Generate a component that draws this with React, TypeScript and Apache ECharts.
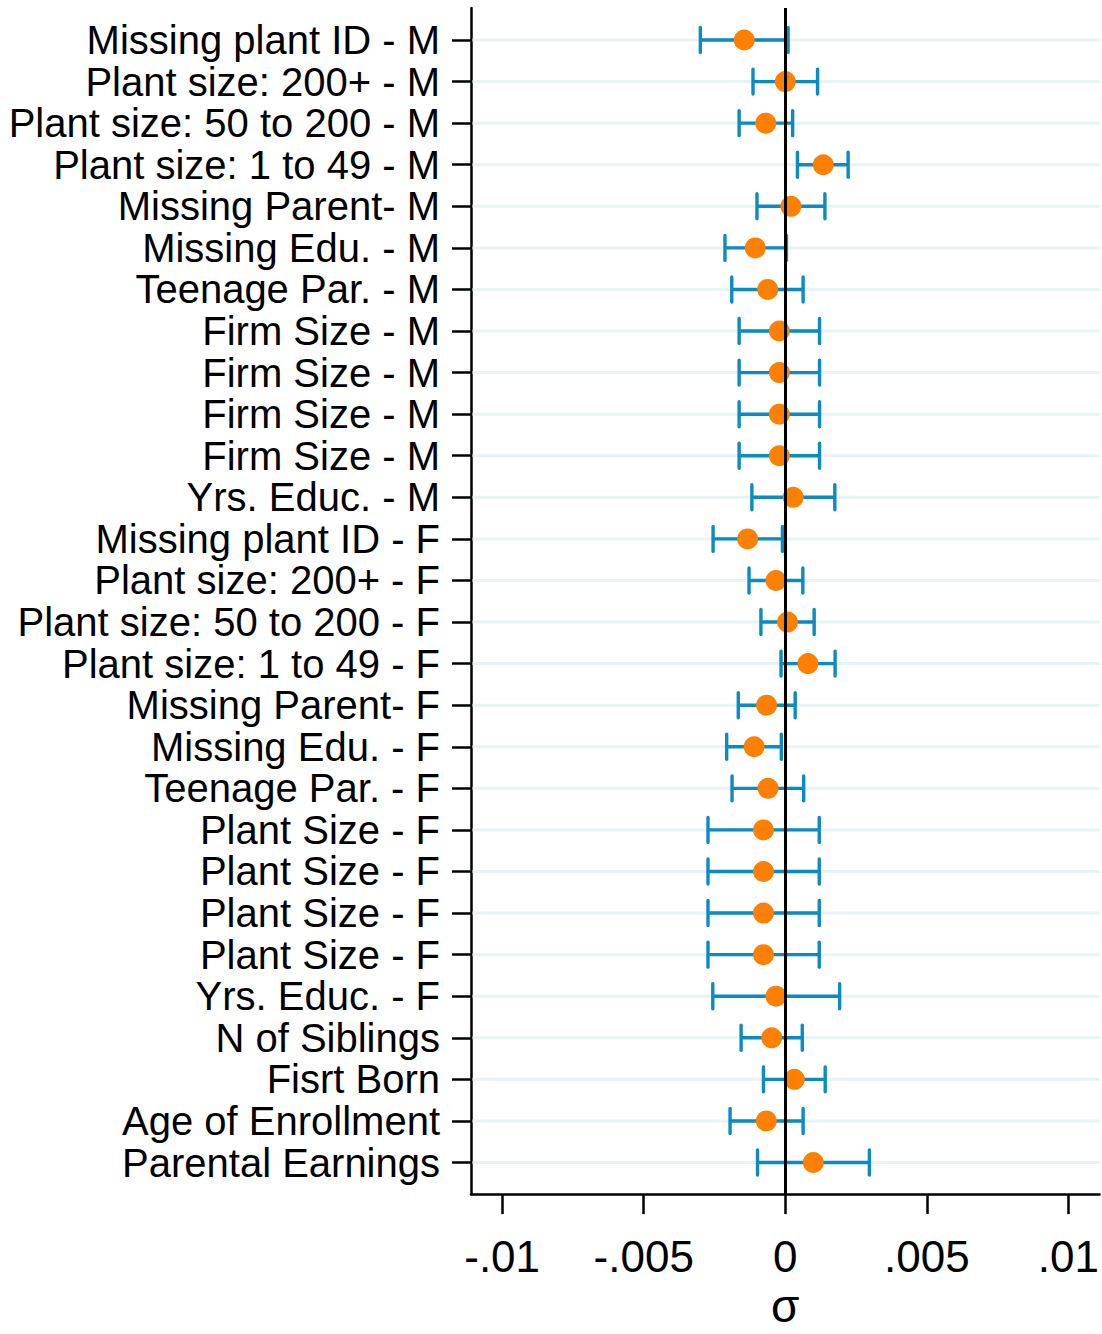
import React, { useEffect, useRef } from "react";
import * as echarts from "echarts";

const labels: string[] = [
  "Missing plant ID - M",
  "Plant size: 200+ - M",
  "Plant size: 50 to 200 - M",
  "Plant size: 1 to 49 - M",
  "Missing Parent- M",
  "Missing Edu. - M",
  "Teenage Par. - M",
  "Firm Size - M",
  "Firm Size - M",
  "Firm Size - M",
  "Firm Size - M",
  "Yrs. Educ. - M",
  "Missing plant ID - F",
  "Plant size: 200+ - F",
  "Plant size: 50 to 200 - F",
  "Plant size: 1 to 49 - F",
  "Missing Parent- F",
  "Missing Edu. - F",
  "Teenage Par. - F",
  "Plant Size - F",
  "Plant Size - F",
  "Plant Size - F",
  "Plant Size - F",
  "Yrs. Educ. - F",
  "N of Siblings",
  "Fisrt Born",
  "Age of Enrollment",
  "Parental Earnings",
];

const estimates: number[] = [
  -0.00145, 0.0, -0.00069, 0.00134, 0.0002, -0.00106, -0.00062, -0.00021,
  -0.00021, -0.00021, -0.00021, 0.00028, -0.00133, -0.00033, 0.00008, 0.0008,
  -0.00066, -0.0011, -0.00061, -0.00077, -0.00077, -0.00077, -0.00077,
  -0.00033, -0.00048, 0.00032, -0.00067, 0.00099,
];

const lower: number[] = [
  -0.003, -0.00114, -0.00163, 0.00043, -0.001, -0.00213, -0.00189, -0.00163,
  -0.00163, -0.00163, -0.00163, -0.00118, -0.00255, -0.00128, -0.00086,
  -0.00015, -0.00166, -0.00207, -0.00188, -0.00273, -0.00273, -0.00273,
  -0.00273, -0.00256, -0.00156, -0.00077, -0.00195, -0.00098,
];

const upper: number[] = [
  0.0001, 0.00114, 0.00026, 0.00222, 0.0014, 0.00004, 0.00063, 0.00121,
  0.00121, 0.00121, 0.00121, 0.00175, -0.0001, 0.00062, 0.00102, 0.00176,
  0.00035, -0.00014, 0.00065, 0.0012, 0.0012, 0.0012, 0.0012, 0.00192, 0.0006,
  0.00141, 0.00063, 0.00297,
];

const xTicks: number[] = [-0.01, -0.005, 0, 0.005, 0.01];
const X_MIN = -0.0111;
const X_MAX = 0.0111;

const fmtX = (v: number) => {
  if (Math.abs(v) < 1e-12) return "0";
  const s = String(Math.round(v * 1000) / 1000);
  return s.replace("0.", ".");
};

export default function App() {
  const ref = useRef<HTMLDivElement>(null);
  useEffect(() => {
    if (!ref.current) return;
    document.body.style.margin = "0";
    document.body.style.overflow = "hidden";
    document.documentElement.style.overflow = "hidden";
    const chart = echarts.init(ref.current, null, { renderer: "svg" });
    const rows = labels.map((_, i) => i);
    const errData = rows.map((i) => [lower[i], upper[i], i]);
    const dotData = rows.map((i) => [estimates[i], i]);
    const gridData = rows.map((i) => [X_MIN, X_MAX, i]);
    const font = "'Liberation Sans', Arial, sans-serif";

    chart.setOption({
      animation: false,
      backgroundColor: "#ffffff",
      grid: { left: 471, right: 2, top: 8, bottom: 130, containLabel: false },
      xAxis: {
        type: "value",
        min: X_MIN,
        max: X_MAX,
        name: "σ",
        nameLocation: "middle",
        nameGap: 88,
        nameTextStyle: { fontSize: 46, color: "#000", fontFamily: font },
        axisLine: { show: true, onZero: false, lineStyle: { color: "#000", width: 2.5 } },
        axisTick: {
          show: true,
          length: 20,
          customValues: xTicks,
          lineStyle: { color: "#000", width: 2.5 },
        },
        axisLabel: {
          customValues: xTicks,
          formatter: (v: number) => fmtX(v),
          fontSize: 44,
          color: "#000",
          fontFamily: font,
          margin: 40,
        },
        splitLine: { show: false },
      },
      yAxis: {
        type: "value",
        inverse: true,
        min: -0.77,
        max: 27.76,
        axisLine: { show: true, onZero: false, lineStyle: { color: "#000", width: 2.5 } },
        axisTick: {
          show: true,
          length: 19,
          customValues: rows,
          lineStyle: { color: "#000", width: 2.5 },
        },
        axisLabel: {
          customValues: rows,
          formatter: (v: number) => labels[Math.round(v)] ?? "",
          fontSize: 40,
          color: "#000",
          fontFamily: font,
          margin: 31,
        },
        splitLine: { show: false },
      },
      series: [
        {
          type: "custom",
          z: 1,
          silent: true,
          data: gridData,
          encode: { x: [0, 1], y: 2 },
          renderItem: (params: any, api: any) => {
            const a = api.coord([api.value(0), api.value(2)]);
            const b = api.coord([api.value(1), api.value(2)]);
            return {
              type: "line",
              shape: { x1: a[0] + 1.5, y1: a[1], x2: b[0], y2: b[1] },
              style: { stroke: "#eaf2f3", lineWidth: 3 },
            };
          },
          markLine: {
            silent: true,
            symbol: ["none", "none"],
            label: { show: false },
            lineStyle: { color: "#000", width: 3, type: "solid" },
            data: [{ xAxis: 0 }],
          },
        },
        {
          type: "custom",
          z: 3,
          silent: true,
          data: errData,
          encode: { x: [0, 1], y: 2 },
          renderItem: (params: any, api: any) => {
            const y = api.value(2);
            const a = api.coord([api.value(0), y]);
            const b = api.coord([api.value(1), y]);
            const h = 12.5;
            const style = { stroke: "#0a8bc2", lineWidth: 3.4 };
            return {
              type: "group",
              children: [
                { type: "line", shape: { x1: a[0], y1: a[1], x2: b[0], y2: b[1] }, style },
                { type: "line", shape: { x1: a[0], y1: a[1] - h, x2: a[0], y2: a[1] + h }, style: { ...style, lineCap: "round" } },
                { type: "line", shape: { x1: b[0], y1: b[1] - h, x2: b[0], y2: b[1] + h }, style: { ...style, lineCap: "round" } },
              ],
            };
          },
        },
        {
          type: "scatter",
          z: 4,
          silent: true,
          symbol: "circle",
          symbolSize: 21,
          itemStyle: { color: "#ff8000", opacity: 1 },
          data: dotData,
        },
      ],
    });
    return () => chart.dispose();
  }, []);

  return (
    <div
      ref={ref}
      style={{ position: "fixed", left: 0, top: 0, width: 1102, height: 1334, overflow: "hidden" }}
    />
  );
}
